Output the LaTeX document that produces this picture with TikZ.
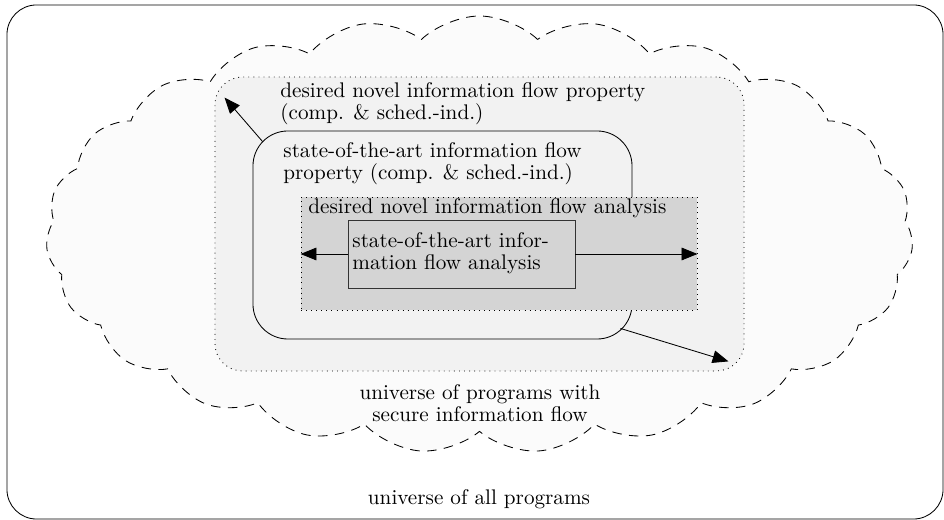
\documentclass[tikz,border=0pt]{standalone}
\usepackage{amsmath,amssymb}
\usetikzlibrary{positioning,arrows.meta,shapes.symbols}

\begin{document}
\begin{tikzpicture}[x=0.4725pt, y=-0.4725pt,
  txt/.style={inner sep=0pt, font=\linespread{0.87}\selectfont},
  area/.style={inner sep=0pt, fill=black!5},
  cloudy/.style={cloud, cloud puffs=23, cloud puff arc=88, aspect=2, draw, inner sep=0pt,
                 dash pattern=on 4.5pt off 3.5pt, fill=black!1.5},
  arr/.style={-{Triangle[length=7.5pt,width=6pt]}, thin}]
\useasboundingbox (0,0) rectangle (944,520);
\node[draw, rounded corners=14pt, minimum width=442.3pt, minimum height=242.9pt] (all) at (475,262) {};
\node[cloudy, minimum width=409.7pt, minimum height=206.5pt] (secure) at (479.5,234.5) {};
\node[area, draw, dotted, rounded corners=13pt, minimum width=250pt, minimum height=138.9pt] (desprop) at (479.5,224) {};
\node[area, draw, rounded corners=16.5pt, minimum width=179.1pt, minimum height=98.3pt] (prop) at (442.5,235) {};
\node[area, draw, dotted, fill=black!17, minimum width=187.1pt, minimum height=53.4pt] (desana) at (499,253.5) {};
\node[area, draw=black!80, fill=black!17, minimum width=107.3pt, minimum height=32.1pt] (ana) at (461.5,254) {};
\node[txt, anchor=north west, align=left] (despropText) at (280,82.3)
  {desired novel information flow property\\ (comp. \& sched.-ind.)};
\node[txt, anchor=north west, align=left] (propText) at (283,142.3)
  {state-of-the-art information flow\\ property (comp. \& sched.-ind.)};
\node[txt, anchor=north west] (desanaText) at (308,198.5)
  {desired novel information flow analysis};
\node[txt, anchor=north west, align=left] (anaText) at (352,232)
  {state-of-the-art infor-\\ mation flow analysis};
\node[txt, anchor=north, align=center] (secureText) at (480,384)
  {universe of programs with\\ secure information flow};
\node[txt, anchor=base] (allText) at (479,505) {universe of all programs};
\draw[arr] (ana.west) -- (ana.west -| desana.west);
\draw[arr] (ana.east) -- (ana.east -| desana.east);
\draw[arr] ([shift={(10,11)}]prop.north west) -- ([shift={(10,21)}]desprop.north west);
\draw[arr] ([shift={(-12,-11)}]prop.south east) -- ([shift={(-16,-10)}]desprop.south east);
\end{tikzpicture}
\end{document}
